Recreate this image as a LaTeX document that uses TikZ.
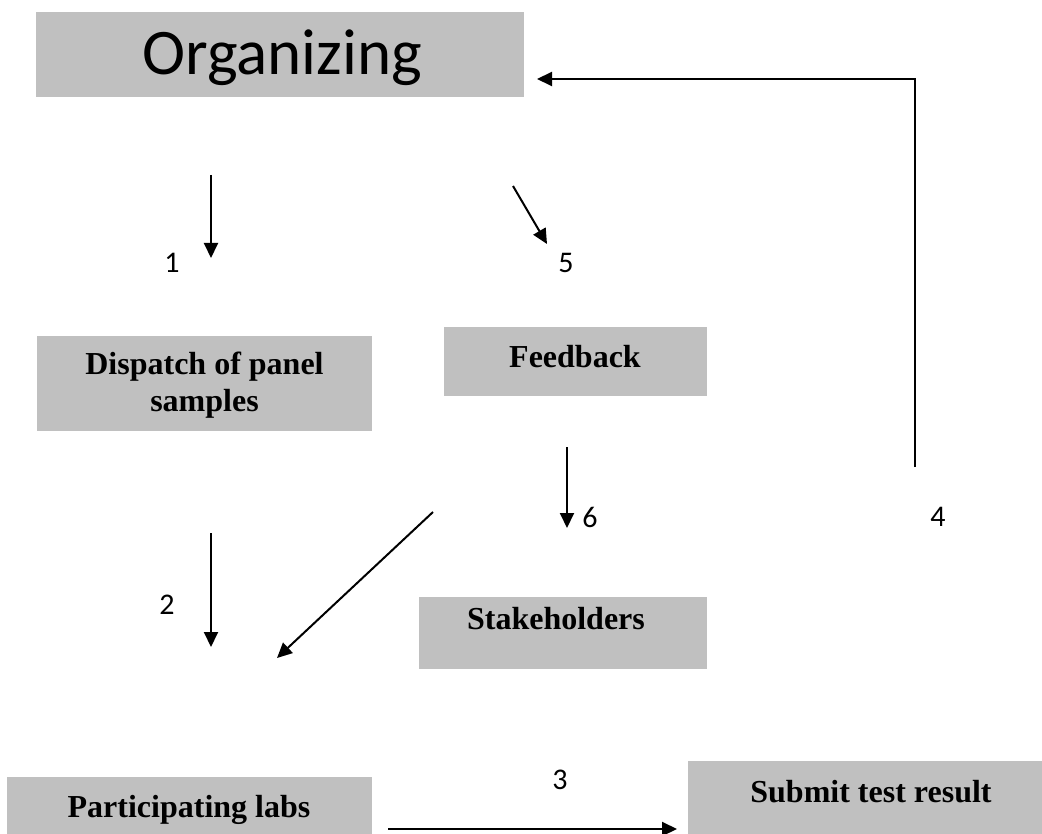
\documentclass[tikz,border=0pt]{standalone}
\usepackage{fontspec}
\setmainfont{Liberation Serif}
\newfontfamily\calibrifont{Carlito}
\usetikzlibrary{arrows.meta}
\definecolor{boxgray}{HTML}{C0C0C0}
\tikzset{
  boxnode/.style={fill=boxgray, draw=none, inner sep=0pt, anchor=north west},
  boxtext/.style={font=\bfseries\fontsize{32}{36}\selectfont, inner sep=0pt, anchor=base},
  numtext/.style={font=\calibrifont\fontsize{30}{34}\selectfont, inner sep=0pt},
  arr/.style={line width=2pt, -{Triangle[length=15pt,width=14pt]}}
}
\begin{document}
\begin{tikzpicture}[x=1pt,y=-1pt]
\useasboundingbox (0,0) rectangle (1042,834);

% boxes
\node[boxnode, minimum width=488pt, minimum height=85pt] (org) at (36,12) {};
\node[boxnode, minimum width=335pt, minimum height=95pt] (disp) at (37,336) {};
\node[boxnode, minimum width=263pt, minimum height=69pt] (feed) at (444,327) {};
\node[boxnode, minimum width=288pt, minimum height=72pt] (stake) at (419,597) {};
\node[boxnode, minimum width=365pt, minimum height=57pt] (lab) at (7,777) {};
\node[boxnode, minimum width=354pt, minimum height=73pt] (sub) at (688,761) {};

% box texts
\node[anchor=base, inner sep=0pt, font=\calibrifont\fontsize{65}{70}\selectfont] (orgT) at (282,75) {Organizing};
\node[boxtext] (dispT1) at (204.5,375) {Dispatch of panel};
\node[boxtext] (dispT2) at (204.5,411) {samples};
\node[boxtext] (feedT) at (575,367) {Feedback};
\node[boxtext] (stakeT) at (556,629) {Stakeholders};
\node[boxtext] (labT) at (189,817) {Participating labs};
\node[boxtext] (subT) at (871,802) {Submit test result};

% arrow endpoints
\coordinate (a1s) at (211,175);
\coordinate (a1e) at (211,258);
\coordinate (a5s) at (513,186);
\coordinate (a5e) at (547,244);
\coordinate (a2s) at (211,533);
\coordinate (a2e) at (211,647);
\coordinate (a6s) at (567,447);
\coordinate (a6e) at (567,528);
\coordinate (ads) at (433,512);
\coordinate (ade) at (277,658);
\coordinate (a3s) at (388,829);
\coordinate (a3e) at (677,829);
\coordinate (a4s) at (915,467);
\coordinate (a4c) at (915,79);
\coordinate (a4e) at (537,79);

% arrows
\draw[arr] (a1s) -- (a1e);
\draw[arr] (a5s) -- (a5e);
\draw[arr] (a2s) -- (a2e);
\draw[arr] (a6s) -- (a6e);
\draw[arr] (ads) -- (ade);
\draw[arr] (a3s) -- (a3e);
\draw[arr] (a4s) -- (a4c) -- (a4e);

% number labels
\node[numtext] (n1) at (172,263) {1};
\node[numtext] (n5) at (566,263) {5};
\node[numtext] (n2) at (167,605) {2};
\node[numtext] (n6) at (590,517) {6};
\node[numtext] (n4) at (938,517) {4};
\node[numtext] (n3) at (560,780) {3};
\end{tikzpicture}
\end{document}
